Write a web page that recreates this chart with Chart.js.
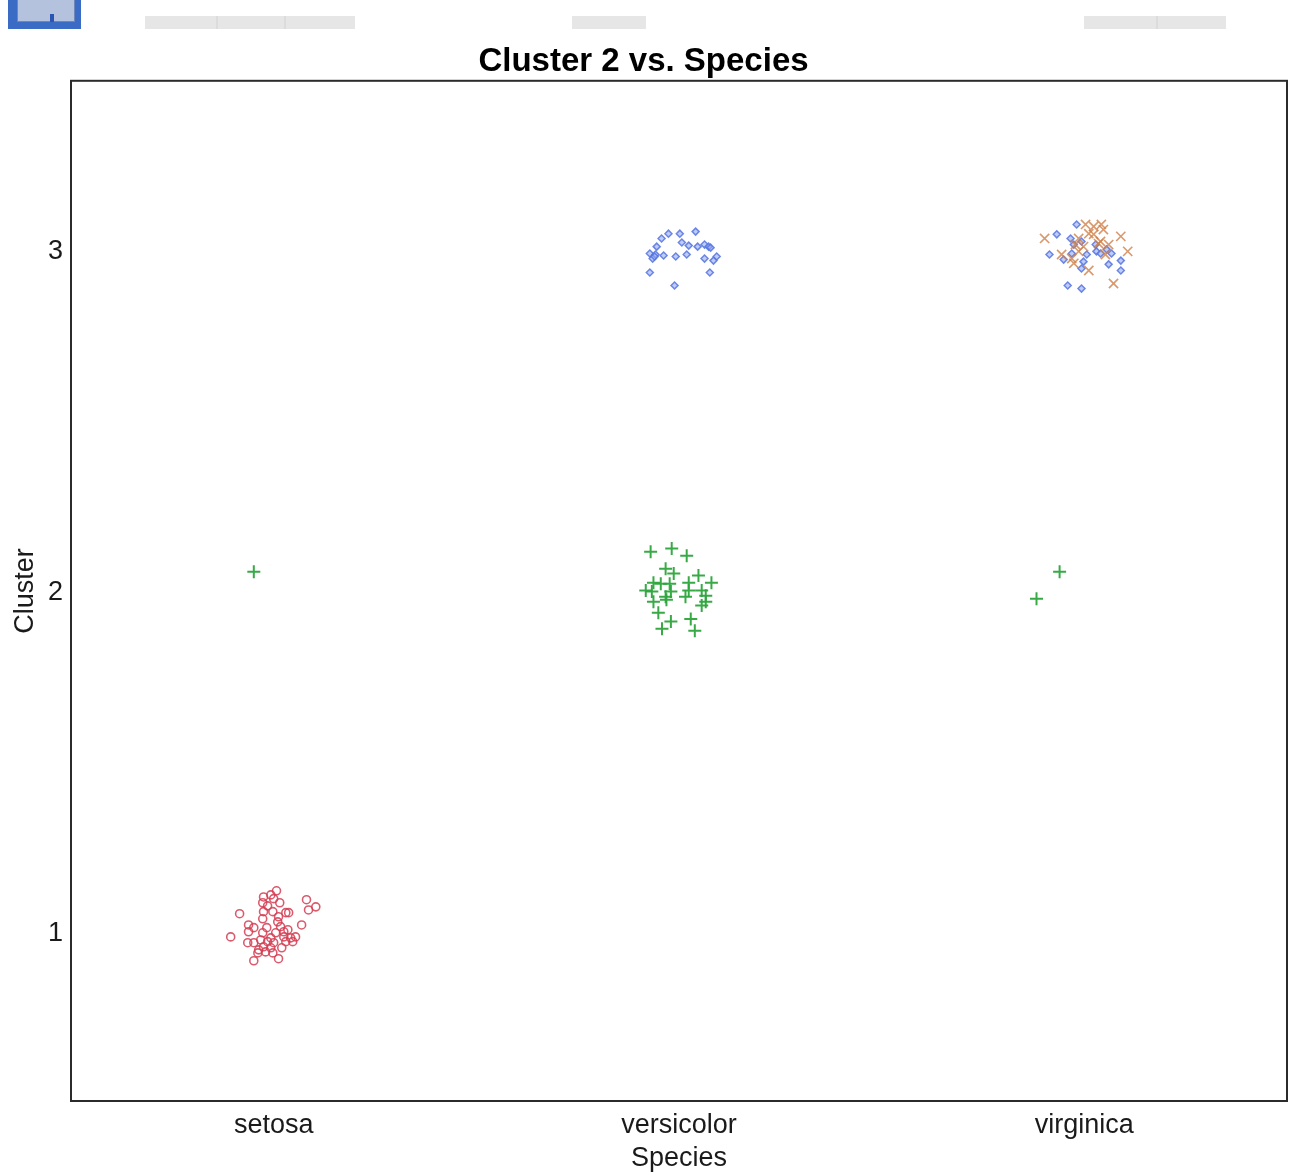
<!DOCTYPE html>
<html>
<head>
<meta charset="utf-8">
<title>Cluster 2 vs. Species</title>
<script src="https://cdn.jsdelivr.net/npm/chart.js@4.4.1/dist/chart.umd.min.js"></script>
<style>
  html, body { margin: 0; padding: 0; background: #ffffff; }
  #wrap { position: relative; width: 1292px; height: 1176px; }
  #chart { position: absolute; left: 0; top: 0; }
  .bar { position: absolute; top: 16px; height: 13px; background: #e6e6e6; }
  .sep { position: absolute; top: 16px; height: 13px; width: 2px; background: #dcdcdc; }
  #btn { position: absolute; left: 8px; top: 0; width: 73px; height: 29px; background: #3a6cc6; }
  #btnInner { position: absolute; left: 17px; top: 0; width: 58px; height: 22px; background: #b4c2de; border: 1px solid #6f86b8; border-top: none; box-sizing: border-box; }
  #btnMark { position: absolute; left: 50px; top: 14px; width: 4px; height: 8px; background: #2a55b0; }
</style>
</head>
<body>
<div id="wrap">
  <canvas id="chart" width="1292" height="1176"></canvas>
  <div id="btn"></div><div id="btnInner"></div><div id="btnMark"></div>
  <div class="bar" style="left:145px;width:210px"></div>
  <div class="sep" style="left:216px"></div>
  <div class="sep" style="left:284px"></div>
  <div class="bar" style="left:572px;width:74px"></div>
  <div class="bar" style="left:1084px;width:142px"></div>
  <div class="sep" style="left:1156px"></div>
</div>
<script>
// Species categories on the x axis and cluster ticks on the y axis
const categories = ['setosa', 'versicolor', 'virginica'];
const clusterTicks = [1, 2, 3];

// Jittered positions (species index, cluster) for each marker group
const circleX = [1.007, 0.975, 0.993, 1.000, 1.015, 0.973, 0.985, 1.081, 1.104, 1.086,
  0.916, 0.975, 0.998, 1.030, 1.037, 0.973, 1.010, 1.069, 0.938, 0.951,
  0.938, 0.973, 1.017, 1.035, 1.005, 0.894, 0.993, 1.025, 1.042, 1.054,
  0.936, 0.951, 0.985, 1.000, 1.030, 1.047, 0.963, 0.975, 0.993, 0.998,
  0.961, 0.951, 1.012, 0.980, 0.968, 1.025, 1.012, 0.983, 1.020];
const circleY = [1.126, 1.108, 1.114, 1.103, 1.091, 1.091, 1.082, 1.100, 1.079, 1.070,
  1.059, 1.065, 1.065, 1.062, 1.062, 1.044, 1.035, 1.026, 1.026, 1.018,
  1.006, 1.003, 1.021, 1.012, 1.003, 0.991, 0.988, 0.991, 0.988, 0.991,
  0.974, 0.974, 0.977, 0.974, 0.977, 0.977, 0.953, 0.962, 0.959, 0.944,
  0.944, 0.921, 0.927, 0.947, 0.982, 1.006, 1.050, 1.018, 0.959];

const plusX = [0.951, 2.939, 2.882,
  1.930, 1.982, 2.019, 1.967, 1.987, 2.048, 1.937, 1.955, 1.977, 2.024,
  2.080, 1.918, 1.933, 1.980, 2.024, 2.056, 2.016, 2.066, 1.937, 1.969,
  2.066, 2.056, 1.949, 2.029, 1.980, 1.958, 2.039, 1.967];
const plusY = [2.061, 2.061, 1.982,
  2.120, 2.129, 2.108, 2.070, 2.056, 2.050, 2.029, 2.026, 2.026, 2.029,
  2.029, 2.006, 2.003, 2.003, 2.006, 2.006, 1.988, 1.991, 1.973, 1.979,
  1.973, 1.962, 1.941, 1.923, 1.915, 1.894, 1.888, 1.988];

const diamondX = [2.041, 1.974, 2.002, 1.957, 2.007, 2.024, 2.046, 2.063, 2.073, 2.078,
  1.945, 1.928, 1.942, 1.935, 1.962, 1.992, 2.019, 2.063, 2.093, 2.085,
  1.928, 2.076, 1.989, 1.940,
  2.981, 2.932, 2.966, 2.993, 3.028, 3.030, 2.914, 2.969, 3.006, 3.055,
  3.067, 2.949, 2.998, 2.993, 3.060, 3.090, 3.090, 2.959, 2.993, 3.040, 2.974];
const diamondY = [3.058, 3.052, 3.052, 3.038, 3.026, 3.017, 3.014, 3.020, 3.014, 3.011,
  3.014, 2.994, 2.991, 2.979, 2.988, 2.985, 2.991, 2.979, 2.985, 2.973,
  2.938, 2.938, 2.900, 2.985,
  3.079, 3.050, 3.038, 3.029, 3.020, 3.000, 2.991, 2.994, 2.991, 3.006,
  2.994, 2.976, 2.970, 2.950, 2.962, 2.973, 2.944, 2.900, 2.891, 2.994, 3.020];

const crossX = [2.902, 3.003, 3.023, 3.042, 3.047, 3.090, 2.986, 3.011, 2.978, 2.998,
  3.040, 2.944, 2.969, 2.986, 3.052, 3.107, 3.011, 3.072, 3.035, 3.060, 2.974, 3.023];
const crossY = [3.038, 3.079, 3.073, 3.079, 3.064, 3.044, 3.038, 3.052, 3.020, 3.014,
  3.029, 2.991, 2.979, 3.000, 2.991, 3.000, 2.944, 2.906, 3.023, 3.020, 2.965, 3.050];

const toPoints = (xs, ys) => xs.map((x, i) => ({ x: x, y: ys[i] }));

// Full box around the plotting area
const frame = {
  id: 'frame',
  afterDraw(chart) {
    const a = chart.chartArea;
    const ctx = chart.ctx;
    ctx.save();
    ctx.strokeStyle = '#2b2b2b';
    ctx.lineWidth = 2;
    ctx.strokeRect(a.left, a.top, a.right - a.left, a.bottom - a.top);
    ctx.restore();
  }
};

const FONT = '"Liberation Sans", Arial, sans-serif';

new Chart(document.getElementById('chart'), {
  type: 'scatter',
  data: {
    datasets: [
      {
        data: toPoints(circleX, circleY),
        pointStyle: 'circle', pointRadius: 4, pointBorderWidth: 1.6,
        borderColor: 'rgba(212, 62, 84, 0.85)', backgroundColor: 'rgba(0,0,0,0)'
      },
      {
        data: toPoints(plusX, plusY),
        pointStyle: 'cross', pointRadius: 6.5, pointBorderWidth: 2,
        borderColor: 'rgba(44, 165, 60, 0.95)', backgroundColor: 'rgba(44, 165, 60, 0.95)'
      },
      {
        data: toPoints(crossX, crossY),
        pointStyle: 'crossRot', pointRadius: 6.5, pointBorderWidth: 1.6,
        borderColor: 'rgba(208, 128, 72, 0.8)', backgroundColor: 'rgba(208, 128, 72, 0.8)'
      },
      {
        data: toPoints(diamondX, diamondY),
        pointStyle: 'rectRot', pointRadius: 3.5, pointBorderWidth: 1.5,
        borderColor: 'rgba(86, 118, 226, 0.85)', backgroundColor: 'rgba(150, 170, 240, 0.6)'
      }
    ]
  },
  options: {
    responsive: false,
    animation: false,
    devicePixelRatio: 1,
    layout: { autoPadding: false, padding: { left: 0, right: 5, top: 0, bottom: 0 } },
    plugins: {
      legend: { display: false },
      tooltip: { enabled: false },
      title: {
        display: true,
        text: 'Cluster 2 vs. Species',
        color: '#000000',
        font: { family: FONT, size: 33, weight: 'bold', lineHeight: 1.1 },
        padding: { top: 44, bottom: 0.5 }
      }
    },
    scales: {
      x: {
        type: 'linear',
        min: 0.5, max: 3.5,
        grid: { display: false, drawTicks: false },
        border: { display: false },
        afterBuildTicks: (s) => { s.ticks = categories.map((c, i) => ({ value: i + 1 })); },
        afterFit: (s) => { s.height = 75; s.paddingLeft = 0; s.paddingRight = 0; },
        ticks: {
          padding: 8,
          color: '#1a1a1a',
          font: { family: FONT, size: 27 },
          callback: (v) => categories[Math.round(v) - 1] || ''
        },
        title: {
          display: true, text: 'Species', color: '#1a1a1a',
          font: { family: FONT, size: 27 },
          padding: { top: 0, bottom: 1 }
        }
      },
      y: {
        type: 'linear',
        min: 0.51, max: 3.5,
        grid: { display: false, drawTicks: false },
        border: { display: false },
        afterBuildTicks: (s) => { s.ticks = clusterTicks.map(v => ({ value: v })); },
        afterFit: (s) => { s.width = 71; },
        ticks: {
          padding: 8,
          color: '#1a1a1a',
          font: { family: FONT, size: 27 },
          callback: (v) => String(v)
        },
        title: {
          display: true, text: 'Cluster', color: '#1a1a1a',
          font: { family: FONT, size: 27 },
          padding: { top: 9, bottom: 0 }
        }
      }
    }
  },
  plugins: [frame]
});
</script>
</body>
</html>
